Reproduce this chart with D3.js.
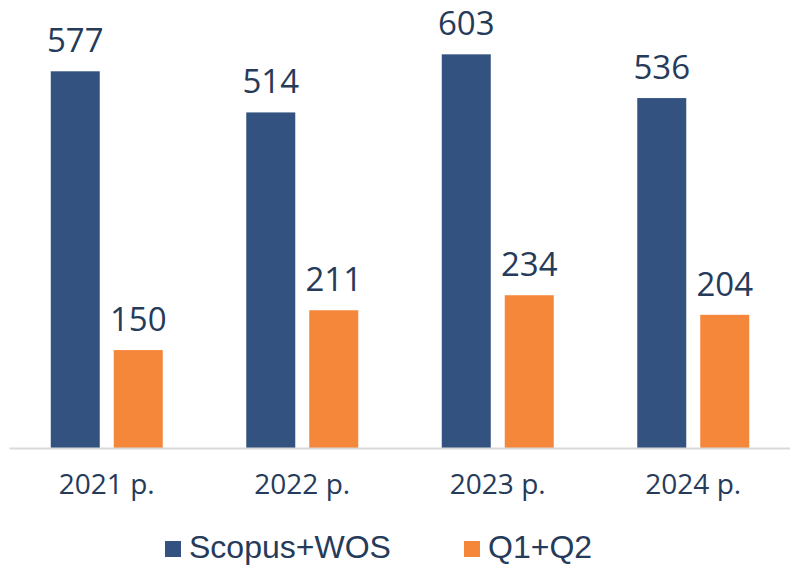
<!DOCTYPE html>
<html>
<head>
<meta charset="utf-8">
<script src="https://cdn.jsdelivr.net/npm/d3@7/dist/d3.min.js"></script>
<style>
  body { margin: 0; background: #fff; }
  svg { display: block; }
</style>
</head>
<body>
<script>
  // chart data
  const years = ["2021 р.", "2022 р.", "2023 р.", "2024 р."];
  const seriesNames = ["Scopus+WOS", "Q1+Q2"];
  const scopusWos = [577, 514, 603, 536];
  const q1q2 = [150, 211, 234, 204];
  const colors = ["#34527f", "#f5873a"];

  const w = 790, h = 565;
  const textColor = "#263a5a";

  const rows = years.map((y, i) => ({ year: y, values: [scopusWos[i], q1q2[i]] }));

  const svg = d3.select("body").append("svg")
    .attr("width", w)
    .attr("height", h);

  const x = d3.scaleBand().domain(years).range([9, 791]).padding(0);
  const xSub = d3.scaleBand().domain(seriesNames).range([0, x.bandwidth()])
    .paddingInner(0.222).paddingOuter(0.663);
  const y = d3.scaleLinear().domain([0, 700]).range([448, -9]);

  const groups = svg.selectAll("g.grp")
    .data(rows)
    .enter()
    .append("g")
    .attr("class", "grp")
    .attr("transform", d => "translate(" + x(d.year) + ",0)");

  const cells = groups.selectAll("g.bar")
    .data(d => d.values.map((v, i) => ({ name: seriesNames[i], value: v, idx: i })))
    .enter()
    .append("g")
    .attr("class", "bar");

  cells.append("rect")
    .attr("x", d => xSub(d.name))
    .attr("y", d => y(d.value))
    .attr("width", xSub.bandwidth())
    .attr("height", d => y(0) - y(d.value))
    .attr("fill", d => colors[d.idx]);

  cells.append("text")
    .attr("x", d => xSub(d.name) + xSub.bandwidth() / 2)
    .attr("y", d => y(d.value) - 19)
    .attr("text-anchor", "middle")
    .attr("font-family", "'Open Sans', sans-serif")
    .attr("font-size", "33px")
    .attr("fill", textColor)
    .text(d => d.value);

  // x axis
  const xAxis = svg.append("g")
    .attr("transform", "translate(0," + y(0) + ")")
    .call(d3.axisBottom(x).tickSize(0).tickPadding(26));
  xAxis.select(".domain")
    .attr("stroke", "#d9d9d9")
    .attr("stroke-width", 2);
  xAxis.selectAll("text")
    .attr("font-family", "'Open Sans', sans-serif")
    .attr("font-size", "28px")
    .attr("fill", textColor);

  // legend
  const legendX = [165, 464];
  const legend = svg.append("g").attr("id", "legend");
  const items = legend.selectAll("g")
    .data(seriesNames)
    .enter()
    .append("g")
    .attr("transform", (d, i) => "translate(" + legendX[i] + ",541)");
  items.append("rect")
    .attr("width", 16)
    .attr("height", 16)
    .attr("fill", (d, i) => colors[i]);
  items.append("text")
    .attr("x", 24)
    .attr("y", 17)
    .attr("font-family", "'Liberation Sans', Arial, sans-serif")
    .attr("font-size", "32px")
    .attr("fill", textColor)
    .text(d => d);
</script>
</body>
</html>
